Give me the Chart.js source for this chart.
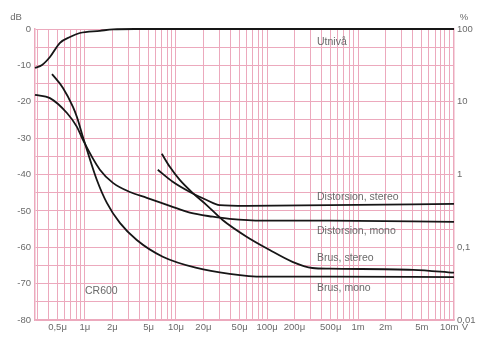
<!DOCTYPE html>
<html>
<head>
<meta charset="utf-8">
<script src="https://cdn.jsdelivr.net/npm/chart.js@4"></script>
<style>
  body { margin: 0; background: #fff; }
  #wrap { width: 477px; height: 355px; }
</style>
</head>
<body>
<div id="wrap"><canvas id="chart" width="477" height="355"></canvas></div>
<script>
/* data, x in microvolts, y in dB */
const utnivaVolt = [0.283, 0.338, 0.413, 0.532, 0.685, 0.88, 1.46, 2.03, 3.5, 11300];
const utnivaDb = [-10.7, -9.9, -7.7, -3.8, -2.2, -1.1, -0.5, -0.1, 0, 0];

const distMonoVolt = [0.283, 0.413, 0.635, 0.817, 0.951, 1.46, 2.03, 3.11, 4.78, 8.55, 14.2, 25.3, 38.8, 89.3, 484, 11300];
const distMonoDb = [-18.1, -19.0, -23.1, -26.9, -30.5, -38.7, -42.3, -44.8, -46.4, -48.6, -50.5, -51.6, -52.2, -52.7, -52.7, -53.0];

const brusMonoVolt = [0.435, 0.574, 0.739, 0.817, 0.951, 1.052, 1.353, 1.742, 2.42, 3.71, 7.16, 16.9, 38.8, 89.3, 484, 11300];
const brusMonoDb = [-12.4, -16.2, -21.4, -24.2, -29.7, -33.2, -41.5, -47.8, -53.3, -58.0, -62.6, -65.7, -67.3, -68.1, -68.1, -68.2];

const brusStereoVolt = [6.98, 8.55, 11.0, 15.3, 21.7, 32.5, 59.6, 106, 190, 315, 484, 4030, 11300];
const brusStereoDb = [-34.3, -37.9, -41.5, -45.1, -48.4, -52.5, -57.1, -60.7, -64.0, -65.7, -65.9, -66.2, -67.0];

const distStereoVolt = [6.31, 9.21, 14.2, 21.7, 30.2, 59.6, 484, 11300];
const distStereoDb = [-38.7, -42.0, -44.8, -47.0, -48.4, -48.6, -48.4, -48.1];

/* tick labels */
const xLabelValues = [0.5, 1, 2, 5, 10, 20, 50, 100, 200, 500, 1000, 2000, 5000, 10000];
const xLabelTexts = ["0,5\u03bc", "1\u03bc", "2\u03bc", "5\u03bc", "10\u03bc", "20\u03bc", "50\u03bc", "100\u03bc", "200\u03bc", "500\u03bc", "1m", "2m", "5m", "10m"];
const pctValues = [-80, -60, -40, -20, 0];
const pctTexts = ["0,01", "0,1", "1", "10", "100"];

const curveLabels = [
    { text: "Utniv\u00e5", x: 317, y: 42 },
    { text: "Distorsion, stereo", x: 317, y: 197 },
    { text: "Distorsion, mono", x: 317, y: 231 },
    { text: "Brus, stereo", x: 317, y: 258 },
    { text: "Brus, mono", x: 317, y: 288 },
    { text: "CR600", x: 85, y: 291 }
];

const gridColor = "#eca9bd";
const textColor = "#6a6a6a";
const font = "Liberation Sans";

/* grid lines at 1..9 of every decade */
const gridVolts = [];
for (let e = -1; e <= 4; e++) {
    for (let m = 1; m <= 9; m++) {
        const v = m * Math.pow(10, e);
        if (v >= 0.283 && v <= 11300) gridVolts.push(v);
    }
}

function toPoints(xs, ys) {
    return xs.map((x, i) => ({ x: x, y: ys[i] }));
}

function curve(label, xs, ys) {
    return {
        label: label,
        data: toPoints(xs, ys),
        borderColor: "#161616",
        borderWidth: 1.8,
        pointRadius: 0,
        cubicInterpolationMode: "monotone",
        clip: 4
    };
}

const textPlugin = {
    id: "texts",
    afterDraw(chart) {
        const ctx = chart.ctx;
        ctx.save();
        ctx.fillStyle = textColor;
        ctx.font = `10.5px "${font}"`;
        ctx.textBaseline = "middle";
        ctx.textAlign = "left";
        curveLabels.forEach(l => ctx.fillText(l.text, l.x, l.y));
        ctx.font = `9.5px "${font}"`;
        ctx.textAlign = "center";
        ctx.fillText("dB", 16, 17);
        ctx.fillText("%", 464, 17);
        ctx.fillText("V", 465, 327);
        ctx.restore();
    }
};

new Chart(document.querySelector("#chart"), {
    type: "line",
    data: {
        datasets: [
            curve("Utniv\u00e5", utnivaVolt, utnivaDb),
            curve("Distorsion, mono", distMonoVolt, distMonoDb),
            curve("Brus, mono", brusMonoVolt, brusMonoDb),
            curve("Brus, stereo", brusStereoVolt, brusStereoDb),
            curve("Distorsion, stereo", distStereoVolt, distStereoDb)
        ]
    },
    options: {
        responsive: false,
        animation: false,
        devicePixelRatio: 1,
        layout: { padding: { top: 29, left: 0, right: 0, bottom: 0 } },
        plugins: {
            legend: { display: false },
            tooltip: { enabled: false }
        },
        scales: {
            x: {
                type: "logarithmic",
                min: 0.283,
                max: 11300,
                afterBuildTicks: scale => {
                    scale.ticks = gridVolts.map(v => ({ value: v }));
                },
                afterFit: scale => { scale.height = 35; },
                ticks: {
                    autoSkip: false,
                    maxRotation: 0,
                    padding: 2,
                    color: textColor,
                    font: { family: font, size: 9.5 },
                    callback: value => {
                        const i = xLabelValues.findIndex(v => Math.abs(v - value) / v < 0.001);
                        return i >= 0 ? xLabelTexts[i] : "";
                    }
                },
                grid: { color: gridColor, lineWidth: 1, drawTicks: false },
                border: { color: gridColor, width: 1.5 }
            },
            y: {
                type: "linear",
                min: -80,
                max: 0,
                afterFit: scale => { scale.width = 35; },
                ticks: {
                    stepSize: 5,
                    autoSkip: false,
                    padding: 4,
                    color: textColor,
                    font: { family: font, size: 9.5 },
                    callback: value => value % 10 === 0 ? (value === 0 ? "0" : "-" + Math.abs(value)) : ""
                },
                grid: { color: gridColor, lineWidth: 1, drawTicks: false },
                border: { color: gridColor, width: 1.5 }
            },
            y2: {
                type: "linear",
                position: "right",
                min: -80,
                max: 0,
                afterBuildTicks: scale => {
                    scale.ticks = pctValues.map(v => ({ value: v }));
                },
                afterFit: scale => { scale.width = 23; },
                ticks: {
                    autoSkip: false,
                    padding: 3,
                    color: textColor,
                    font: { family: font, size: 9.5 },
                    callback: value => pctTexts[pctValues.indexOf(value)]
                },
                grid: { display: false, drawTicks: false },
                border: { color: gridColor, width: 1.5 }
            }
        }
    },
    plugins: [textPlugin]
});
</script>
</body>
</html>
